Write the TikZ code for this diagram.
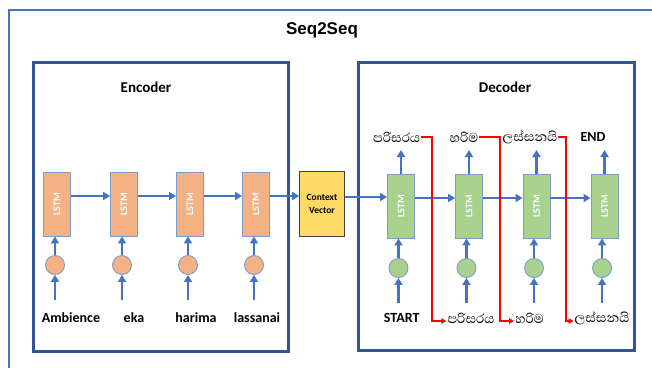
\documentclass[tikz,border=0pt]{standalone}
\usepackage{fontspec}
\usepackage{graphicx}
\setmainfont{Carlito}
\newfontfamily\titlefont{Liberation Sans}
\newfontfamily\sinhalafont[Script=Sinhala]{Abhaya Libre}
\usetikzlibrary{arrows.meta}
\definecolor{arrblue}{HTML}{4472C4}
\definecolor{boxblue}{HTML}{2F5597}
\definecolor{cellborder}{HTML}{7F9BC8}
\definecolor{orangefill}{HTML}{F4B183}
\definecolor{greenfill}{HTML}{A9D18E}
\definecolor{yellowfill}{HTML}{FFD966}
\definecolor{ctxborder}{HTML}{404040}
\tikzset{
  frame/.style={draw=boxblue, line width=3pt},
  outerframe/.style={draw=arrblue, line width=2.2pt},
  cell/.style={draw=cellborder, line width=0.9pt, minimum width=27pt, minimum height=64pt, inner sep=0pt, text=white, font=\bfseries\fontsize{10}{10}\selectfont},
  enccell/.style={cell, fill=orangefill},
  deccell/.style={cell, fill=greenfill},
  dot/.style={circle, draw=cellborder, line width=0.9pt, minimum size=19pt, inner sep=0pt},
  encdot/.style={dot, fill=orangefill},
  decdot/.style={dot, fill=greenfill},
  arr/.style={draw=arrblue, line width=2.6pt, -{Triangle[length=7pt,width=8pt]}},
  redarr/.style={draw=red, line width=1.5pt, -{Triangle[length=5pt,width=5.5pt]}},
  word/.style={font=\bfseries\fontsize{14}{16}\selectfont, inner sep=1pt},
  sword/.style={font=\sinhalafont\fontsize{16.5}{18}\selectfont, inner sep=1pt},
  hdr/.style={font=\bfseries\fontsize{15}{17}\selectfont},
}
\begin{document}
\begin{tikzpicture}[x=1pt,y=-1pt]
\clip (0,0) rectangle (652,367);
\useasboundingbox (0,0) rectangle (652,367);
\fill[white] (0,0) rectangle (652,367);
% outer frame
\draw[outerframe] (9,400) -- (9,10) -- (700,10);
\node[font=\titlefont\bfseries\fontsize{17}{19}\selectfont] (title) at (322,30) {Seq2Seq};
% encoder / decoder frames
\draw[frame] (33,62) rectangle (288,351);
\draw[frame] (358,62) rectangle (634,350);
\node[hdr] (enclab) at (146,87) {Encoder};
\node[hdr] (declab) at (505,87) {Decoder};
% encoder cells
\foreach \i/\x in {1/57,2/124,3/190,4/256}{
  \node[enccell] (e\i) at (\x,204) {\rotatebox{90}{LSTM}};
  \node[encdot] (ec\i) at (\x-2,265) {};
  \coordinate (es\i) at (\x-2,300);
  \draw[arr] (ec\i.north) -- (ec\i.north |- e\i.south);
  \draw[arr] (es\i) -- (ec\i.south);
}
\node[word] (w1) at (71,318) {Ambience};
\node[word] (w2) at (134,318) {eka};
\node[word] (w3) at (196,318) {harima};
\node[word] (w4) at (257,318) {lassanai};
\draw[arr] ([yshift=8pt]e1.east) -- ([yshift=8pt]e2.west);
\draw[arr] ([yshift=8pt]e2.east) -- ([yshift=8pt]e3.west);
\draw[arr] ([yshift=8pt]e3.east) -- ([yshift=8pt]e4.west);
% context vector
\node[draw=ctxborder, line width=0.7pt, fill=yellowfill, minimum width=45pt, minimum height=65pt, align=center, font=\bfseries\fontsize{9.5}{13}\selectfont, inner sep=0pt] (ctx) at (322,204) {Context\\Vector};
\draw[arr] ([yshift=8pt]e4.east) -- ([yshift=8pt]e4.east -| ctx.west);
% decoder cells
\foreach \i/\x in {1/401,2/469,3/536.5,4/604.5}{
  \node[deccell] (d\i) at (\x,206) {\rotatebox{90}{LSTM}};
  \node[decdot] (dc\i) at (\x-2.5,268) {};
  \coordinate (ds\i) at (\x-2.5,303);
  \coordinate (dt\i) at (\x,150);
  \draw[arr] (dc\i.north) -- (dc\i.north |- d\i.south);
  \draw[arr] (ds\i) -- (dc\i.south);
  \draw[arr] (d\i.north) -- (dt\i);
}
\draw[arr] ([yshift=7pt]ctx.east) -- ([yshift=7pt]ctx.east -| d1.west);
\draw[arr] ([yshift=8pt]d1.east) -- ([yshift=8pt]d2.west);
\draw[arr] ([yshift=8pt]d2.east) -- ([yshift=8pt]d3.west);
\draw[arr] ([yshift=8pt]d3.east) -- ([yshift=8pt]d4.west);
% output labels
\node[sword] (o1) at (396.7,137) {පරිසරය};
\node[sword] (o2) at (464,137) {හරිම};
\node[sword] (o3) at (530,137) {ලස්සනයි};
\node[word] (o4) at (593,137) {END};
% input labels
\node[word] (b1) at (401.7,318) {START};
\node[sword] (b2) at (471,318) {පරිසරය};
\node[sword] (b3) at (529.5,318) {හරිම};
\node[sword] (b4) at (602,318) {ලස්සනයි};
% red feedback connectors
\coordinate (k1) at (432,321);
\coordinate (k2) at (500,321);
\coordinate (k3) at (566,321);
\draw[redarr] (o1.east) -| (k1) -- (k1 -| b2.west);
\draw[redarr] (o2.east) -| (k2) -- (k2 -| b3.west);
\draw[redarr] (o3.east) -| (k3) -- (k3 -| b4.west);
\end{tikzpicture}
\end{document}
